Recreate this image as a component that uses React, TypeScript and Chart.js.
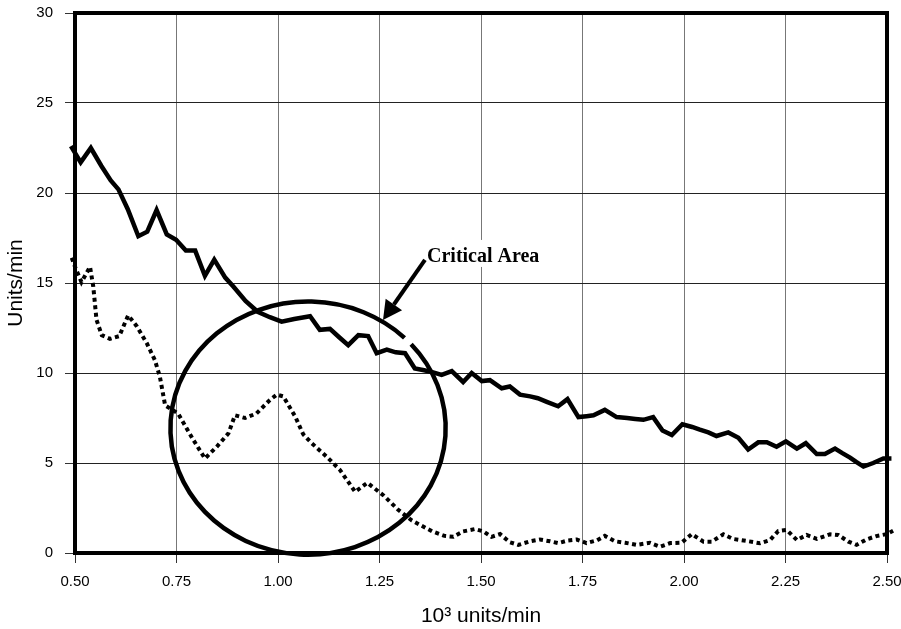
import React, { useEffect, useRef } from 'react';
import { Chart, registerables } from 'chart.js';

Chart.register(...registerables);

// ---- data (x in 10^3 units/min, y in units/min) ----
const solidPoints: [number, number][] = [
  [0.49, 22.6], [0.514, 21.7], [0.539, 22.5], [0.565, 21.5], [0.588, 20.7], [0.607, 20.2],
  [0.63, 19.1], [0.656, 17.6], [0.678, 17.85], [0.701, 19.05], [0.726, 17.7], [0.749, 17.4],
  [0.773, 16.8], [0.796, 16.8], [0.82, 15.4], [0.843, 16.3], [0.87, 15.3], [0.89, 14.8],
  [0.92, 14.0], [0.95, 13.4], [0.98, 13.1], [1.009, 12.85], [1.04, 13.0], [1.079, 13.15],
  [1.103, 12.4], [1.128, 12.45], [1.15, 12.0], [1.173, 11.55], [1.198, 12.1], [1.222, 12.05],
  [1.243, 11.1], [1.268, 11.3], [1.29, 11.15], [1.313, 11.1], [1.337, 10.25], [1.36, 10.15],
  [1.38, 10.05], [1.403, 9.9], [1.428, 10.1], [1.456, 9.5], [1.477, 10.0], [1.502, 9.55],
  [1.522, 9.6], [1.551, 9.15], [1.571, 9.25], [1.596, 8.8], [1.621, 8.7], [1.64, 8.6],
  [1.662, 8.4], [1.69, 8.15], [1.713, 8.55], [1.74, 7.55], [1.76, 7.6], [1.777, 7.65],
  [1.805, 7.95], [1.834, 7.55], [1.86, 7.5], [1.88, 7.45], [1.9, 7.4], [1.924, 7.55],
  [1.947, 6.8], [1.97, 6.55], [1.996, 7.15], [2.02, 7.0], [2.039, 6.85], [2.06, 6.7],
  [2.08, 6.5], [2.109, 6.7], [2.134, 6.4], [2.158, 5.75], [2.183, 6.15], [2.204, 6.15],
  [2.228, 5.9], [2.251, 6.2], [2.278, 5.8], [2.3, 6.1], [2.327, 5.5], [2.347, 5.5],
  [2.372, 5.8], [2.39, 5.55], [2.409, 5.3], [2.425, 5.05], [2.442, 4.8], [2.466, 5.0],
  [2.491, 5.25], [2.511, 5.25],
];

const dottedPoints: [number, number][] = [
  [0.492, 16.4], [0.5, 15.9], [0.516, 15.05], [0.537, 15.9], [0.545, 14.8], [0.553, 12.95],
  [0.566, 12.1], [0.586, 11.9], [0.609, 12.05], [0.631, 13.2], [0.652, 12.6], [0.677, 11.65],
  [0.697, 10.7], [0.709, 9.8], [0.722, 8.2], [0.754, 7.75], [0.791, 6.3], [0.82, 5.25],
  [0.849, 5.9], [0.878, 6.65], [0.894, 7.65], [0.919, 7.5], [0.947, 7.75], [0.98, 8.5],
  [0.997, 8.8], [1.013, 8.7], [1.042, 7.6], [1.062, 6.6], [1.083, 6.1], [1.12, 5.35],
  [1.153, 4.6], [1.19, 3.4], [1.22, 3.9], [1.26, 3.2], [1.296, 2.4], [1.33, 1.8],
  [1.38, 1.2], [1.41, 0.95], [1.432, 0.9], [1.456, 1.2], [1.485, 1.33], [1.506, 1.2],
  [1.526, 0.9], [1.547, 1.05], [1.571, 0.6], [1.592, 0.45], [1.621, 0.65], [1.645, 0.75],
  [1.67, 0.65], [1.69, 0.55], [1.715, 0.7], [1.736, 0.75], [1.76, 0.55], [1.785, 0.7],
  [1.805, 0.95], [1.83, 0.65], [1.855, 0.57], [1.883, 0.45], [1.916, 0.57], [1.941, 0.35],
  [1.966, 0.55], [1.994, 0.57], [2.019, 1.05], [2.048, 0.63], [2.068, 0.63], [2.097, 1.04],
  [2.121, 0.78], [2.154, 0.67], [2.187, 0.54], [2.212, 0.72], [2.232, 1.22], [2.253, 1.28],
  [2.278, 0.72], [2.302, 1.0], [2.327, 0.78], [2.36, 1.04], [2.38, 1.0], [2.405, 0.63],
  [2.425, 0.45], [2.45, 0.76], [2.474, 0.94], [2.499, 1.05], [2.515, 1.24],
];

const xTicks = [0.5, 0.75, 1.0, 1.25, 1.5, 1.75, 2.0, 2.25, 2.5];
const yTicks = [0, 5, 10, 15, 20, 25, 30];

const X_TITLE = '10³ units/min';
const Y_TITLE = 'Units/min';
const ANNOTATION_TEXT = 'Critical Area';

// annotation geometry in data units
const CIRCLE_CENTER = [1.074, 6.94];
const CIRCLE_RADII = [0.339, 7.03];
const CIRCLE_GAP_DEG = [-45.5, -41.5];
const ARROW_TAIL = [1.362, 16.28];
const ARROW_TIP = [1.2586, 12.94];
const LABEL_POS = [1.367, 16.17];

const decorPlugin = {
  id: 'decor',
  beforeDatasetsDraw(chart: any) {
    const { ctx, chartArea: a } = chart;
    ctx.save();
    ctx.strokeStyle = '#000';
    ctx.lineWidth = 4;
    ctx.strokeRect(a.left, a.top, a.right - a.left, a.bottom - a.top);
    ctx.restore();
  },
  afterDatasetsDraw(chart: any) {
    const { ctx } = chart;
    const xs = chart.scales.x;
    const ys = chart.scales.y;
    const cx = xs.getPixelForValue(CIRCLE_CENTER[0]);
    const cy = ys.getPixelForValue(CIRCLE_CENTER[1]);
    const rx = xs.getPixelForValue(CIRCLE_CENTER[0] + CIRCLE_RADII[0]) - cx;
    const ry = cy - ys.getPixelForValue(CIRCLE_CENTER[1] + CIRCLE_RADII[1]);
    ctx.save();
    ctx.strokeStyle = '#000';
    ctx.lineWidth = 4.5;
    ctx.beginPath();
    const g0 = (CIRCLE_GAP_DEG[0] * Math.PI) / 180;
    const g1 = (CIRCLE_GAP_DEG[1] * Math.PI) / 180;
    ctx.ellipse(cx, cy, rx, ry, 0, g1, g0 + Math.PI * 2);
    ctx.stroke();

    // label with white background
    const lx = xs.getPixelForValue(LABEL_POS[0]);
    const ly = ys.getPixelForValue(LABEL_POS[1]);
    ctx.font = 'bold 20px "Liberation Serif", "Times New Roman", serif';
    const w = ctx.measureText(ANNOTATION_TEXT).width;
    ctx.fillStyle = '#fff';
    ctx.fillRect(lx - 4, ly - 22, w + 8, 27);
    ctx.fillStyle = '#000';
    ctx.textBaseline = 'alphabetic';
    ctx.textAlign = 'left';
    ctx.fillText(ANNOTATION_TEXT, lx, ly);

    // arrow
    const tx = xs.getPixelForValue(ARROW_TAIL[0]);
    const ty = ys.getPixelForValue(ARROW_TAIL[1]);
    const px = xs.getPixelForValue(ARROW_TIP[0]);
    const py = ys.getPixelForValue(ARROW_TIP[1]);
    const ang = Math.atan2(py - ty, px - tx);
    const headLen = 19;
    const headHalf = 10;
    const bx = px - headLen * Math.cos(ang);
    const by = py - headLen * Math.sin(ang);
    ctx.lineWidth = 4;
    ctx.beginPath();
    ctx.moveTo(tx, ty);
    ctx.lineTo(bx, by);
    ctx.stroke();
    ctx.beginPath();
    ctx.moveTo(px, py);
    ctx.lineTo(bx + headHalf * Math.sin(ang), by - headHalf * Math.cos(ang));
    ctx.lineTo(bx - headHalf * Math.sin(ang), by + headHalf * Math.cos(ang));
    ctx.closePath();
    ctx.fill();
    ctx.restore();
  },
};

export default function App() {
  const canvasRef = useRef<HTMLCanvasElement | null>(null);

  useEffect(() => {
    if (!canvasRef.current) return;
    const sans = '"Liberation Sans", Arial, sans-serif';
    const chart = new Chart(canvasRef.current, {
      type: 'line',
      data: {
        datasets: [
          {
            label: 'solid',
            data: solidPoints.map(([x, y]) => ({ x, y })),
            borderColor: '#000',
            borderWidth: 4.5,
            pointRadius: 0,
            tension: 0,
            fill: false,
            clip: false as any,
          },
          {
            label: 'dotted',
            data: dottedPoints.map(([x, y]) => ({ x, y })),
            borderColor: '#000',
            borderWidth: 4,
            borderDash: [4, 3.5],
            borderCapStyle: 'butt',
            pointRadius: 0,
            tension: 0,
            fill: false,
            clip: false as any,
          },
        ],
      },
      options: {
        responsive: false,
        animation: false,
        layout: { padding: { left: 0, right: 14, top: 13, bottom: 0 } },
        plugins: { legend: { display: false }, tooltip: { enabled: false } },
        scales: {
          x: {
            type: 'linear',
            min: 0.5,
            max: 2.5,
            afterBuildTicks: (s: any) => {
              s.ticks = xTicks.map((v) => ({ value: v }));
            },
            afterFit: (s: any) => {
              s.height = 76;
              s.paddingLeft = 0;
              s.paddingRight = 0;
            },
            ticks: {
              color: '#000',
              font: { family: sans, size: 15 },
              padding: 10,
              maxRotation: 0,
              autoSkip: false,
              callback: (v: any) => Number(v).toFixed(2),
            },
            grid: { color: '#777', lineWidth: 1, tickLength: 10, tickColor: '#333' },
            border: { display: false },
            title: {
              display: true,
              text: X_TITLE,
              color: '#000',
              font: { family: sans, size: 21 },
              padding: { top: 0, bottom: 0 },
            },
          },
          y: {
            type: 'linear',
            min: 0,
            max: 30,
            afterBuildTicks: (s: any) => {
              s.ticks = yTicks.map((v) => ({ value: v }));
            },
            afterFit: (s: any) => {
              s.width = 75;
              s.paddingTop = 0;
              s.paddingBottom = 0;
            },
            ticks: {
              color: '#000',
              font: { family: sans, size: 15 },
              padding: 12,
              autoSkip: false,
            },
            grid: { color: '#222', lineWidth: 1, tickLength: 10, tickColor: '#333' },
            border: { display: false },
            title: {
              display: true,
              text: Y_TITLE,
              color: '#000',
              font: { family: sans, size: 21 },
              padding: { top: 4, bottom: 0 },
            },
          },
        },
      },
      plugins: [decorPlugin],
    });
    return () => chart.destroy();
  }, []);

  return (
    <div style={{ position: 'absolute', left: 0, top: 0, width: 901, height: 629, background: '#fff' }}>
      <canvas ref={canvasRef} width={901} height={629} style={{ display: 'block' }} />
    </div>
  );
}
